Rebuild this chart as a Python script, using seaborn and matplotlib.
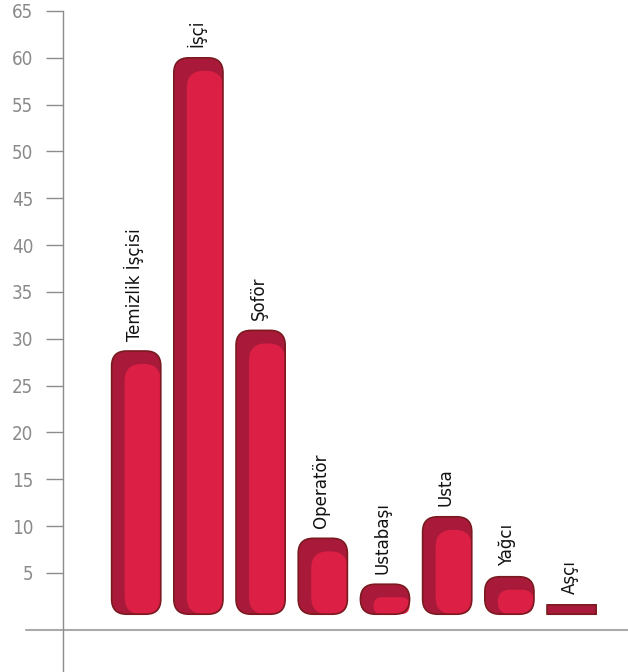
import matplotlib
matplotlib.use("Agg")
import matplotlib.pyplot as plt
import seaborn as sns
import pandas as pd
from matplotlib.patches import FancyBboxPatch

categories = ["Temizlik İşçisi", "İşçi", "Şoför", "Operatör", "Ustabaşı", "Usta", "Yağcı", "Aşçı"]
values = [28.7, 60, 30.9, 8.7, 3.8, 11, 4.6, 1.6]
yticks = [5, 10, 15, 20, 25, 30, 35, 40, 45, 50, 55, 60, 65]

sns.set_theme(style="white")
plt.rcParams['font.family'] = ['DejaVu Sans']
plt.rcParams['font.stretch'] = 'condensed'

W, H = 628, 672
fig = plt.figure(figsize=(W / 100, H / 100), dpi=100)
ax = fig.add_axes([63 / W, 0, (W - 63) / W, (H - 11) / H])

df = pd.DataFrame({"cat": categories, "val": values})
sns.barplot(data=df, x="cat", y="val", ax=ax, width=0.79, color="#DC1F45")
ax.set_xlim(-1.177, 7.907)
ax.set_ylim(-5.57, 65)

t0 = ax.transData.transform((0, 0))
t1 = ax.transData.transform((1, 1))
px_x = t1[0] - t0[0]
px_y = t1[1] - t0[1]
asp = px_x / px_y

base = 0.6
dark = "#A91A3A"
main = "#DC1F45"
edge = "#7A1A20"
for p in list(ax.patches):
    x = p.get_x(); w = p.get_width(); h = p.get_height()
    p.set_visible(False)
    hh = h - base
    h_px = hh * px_y
    if h_px < 12:
        r = 0.0001
    else:
        r = min(15 / px_x, 0.5 * h_px / px_x)
    outer = FancyBboxPatch((x, base), w, hh, boxstyle=f"round,pad=0,rounding_size={r}",
                           mutation_aspect=asp, fc=dark, ec="none", zorder=3)
    ax.add_patch(outer)
    dx = 13 / px_x
    dy = 13 / px_y
    if h_px > 20:
        ih = hh - dy
        ri = min(17 / px_x, 0.5 * ih * px_y / px_x)
        inner = FancyBboxPatch((x + dx, base), w - dx, ih, boxstyle=f"round,pad=0,rounding_size={ri}",
                               mutation_aspect=asp, fc=main, ec="none", zorder=4)
        ax.add_patch(inner)
    edgep = FancyBboxPatch((x, base), w, hh, boxstyle=f"round,pad=0,rounding_size={r}",
                           mutation_aspect=asp, fc="none", ec=edge, lw=1.2, zorder=5)
    ax.add_patch(edgep)

for i, (cat, v) in enumerate(zip(categories, values)):
    ax.annotate(cat, xy=(i, v), xytext=(-1.5, 7.5), textcoords="offset points",
                rotation=90, ha="center", va="bottom", fontsize=13.3, color="#111111")

for s in ["top", "right", "bottom"]:
    ax.spines[s].set_visible(False)
ax.spines["left"].set_color("#8c8c8c")
ax.spines["left"].set_linewidth(1)
ax.set_yticks(yticks)
ax.set_yticklabels([str(t) for t in yticks])
ax.set_xticks([])
ax.set_xlabel("")
ax.set_ylabel("")
ax.tick_params(axis="y", direction="out", length=12.3, width=1, color="#8c8c8c",
               pad=9, labelsize=13.5, labelcolor="#8a8a8a", left=True)
ax.axhline(-1.1, xmin=(26 - 63) / (W - 63), xmax=1, color="#aaaaaa", lw=1.5, clip_on=False, zorder=1)

fig.savefig("out.png", dpi=100)
